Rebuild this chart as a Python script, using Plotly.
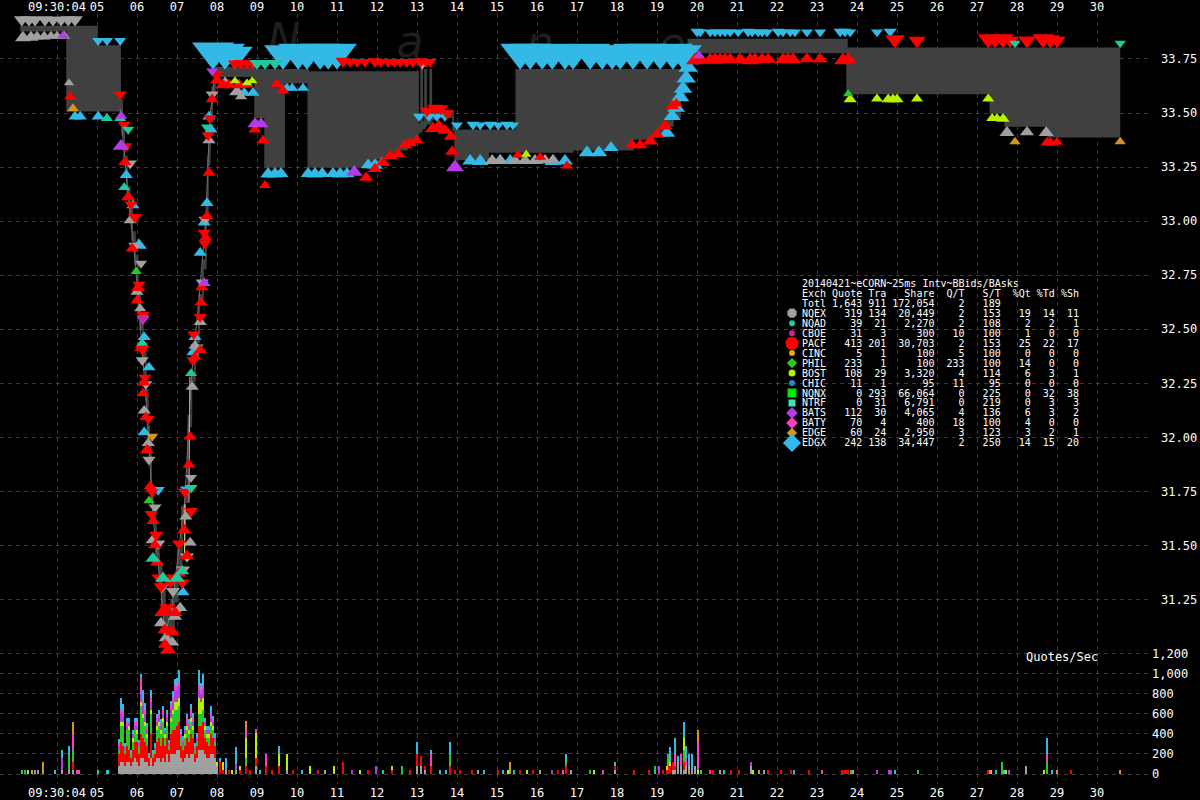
import math
import plotly.graph_objects as go

# ======================= DATA =======================
SEC_TICKS = list(range(4, 31))
SEC_LABELS = ["09:30:04"] + [f"{s:02d}" for s in range(5, 31)]
PRICE_TICKS = [31.25, 31.50, 31.75, 32.00, 32.25, 32.50, 32.75, 33.00, 33.25, 33.50, 33.75]
RATE_TICKS = [0, 200, 400, 600, 800, 1000, 1200]
RATE_LABELS = ["0", "200", "400", "600", "800", "1,000", "1,200"]

# national best bid / offer (seconds after 09:30:00)
NBBO_T = [3.08, 4.25, 5.00, 5.58, 5.63, 5.68, 5.75, 5.82, 5.88, 5.95, 6.02, 6.08, 6.15, 6.22, 6.27, 6.31,
          6.35, 6.40, 6.47, 6.55, 6.62, 6.70, 6.78, 6.85, 6.93, 7.02, 7.12, 7.20, 7.28, 7.36, 7.45, 7.55,
          7.65, 7.72, 7.77, 7.82, 7.88, 7.95, 8.95, 9.20, 9.68, 10.28, 11.75, 12.00, 12.25, 12.50, 12.75,
          12.92, 13.03, 13.10, 13.13, 13.20, 13.23, 13.33, 13.36, 13.45, 13.90, 13.95, 14.78, 15.48, 16.90,
          18.40, 18.90, 19.25, 19.40, 19.58, 19.70, 19.78, 23.75, 27.33, 27.70, 28.78, 30.58]
NBBO_ASK = [33.90, 33.90, 33.81, 33.56, 33.44, 33.30, 33.16, 33.06, 32.95, 32.84, 32.68, 32.54, 32.40, 32.22,
            32.05, 31.96, 31.76, 31.66, 31.52, 31.42, 31.32, 31.22, 31.20, 31.25, 31.36, 31.48, 31.68, 31.74,
            32.10, 32.30, 32.48, 32.66, 32.82, 33.03, 33.30, 33.50, 33.62, 33.71, 33.70, 33.70, 33.70, 33.69,
            33.69, 33.69, 33.69, 33.69, 33.69, 33.69, 33.45, 33.70, 33.46, 33.70, 33.48, 33.70, 33.50, 33.51,
            33.45, 33.42, 33.42, 33.70, 33.70, 33.70, 33.70, 33.70, 33.70, 33.70, 33.70, 33.84, 33.80, 33.80,
            33.80, 33.80, 33.80]
NBBO_BID = [33.88, 33.51, 33.51, 33.50, 33.40, 33.26, 33.12, 33.02, 32.91, 32.80, 32.63, 32.50, 32.36, 32.17,
            32.00, 31.91, 31.70, 31.60, 31.46, 31.33, 31.20, 31.05, 31.06, 31.12, 31.24, 31.40, 31.60, 31.70,
            32.05, 32.26, 32.44, 32.62, 32.78, 32.99, 33.26, 33.46, 33.58, 33.67, 33.48, 33.25, 33.64, 33.25,
            33.27, 33.29, 33.31, 33.33, 33.36, 33.38, 33.41, 33.42, 33.43, 33.44, 33.45, 33.46, 33.47, 33.48,
            33.42, 33.285, 33.32, 33.32, 33.33, 33.38, 33.39, 33.44, 33.48, 33.57, 33.64, 33.78, 33.59, 33.50,
            33.44, 33.39, 33.39]

# trade prints
TRADE_T = [5.58, 5.70, 5.82, 5.95, 6.08, 6.22, 6.31, 6.40, 6.55, 6.70, 6.85, 7.02, 7.20, 7.36, 7.55, 7.72, 7.82, 7.95]
TRADE_P = [33.52, 33.28, 33.04, 32.82, 32.52, 32.20, 31.93, 31.63, 31.38, 31.10, 31.18, 31.44, 31.72, 32.28,
           32.64, 33.01, 33.48, 33.69]
PACF_TRADE_T = [7.30, 7.32]
PACF_TRADE_P = [31.70, 32.28]
BOST_TRADE_T = [7.19, 7.20]
BOST_TRADE_P = [31.44, 31.69]

# quotes: (seconds, price, shares)
NQEX_ASK = [(3.12, 33.90, 600), (3.30, 33.90, 600), (3.45, 33.90, 500), (3.70, 33.90, 600), (3.90, 33.90, 500),
            (4.10, 33.90, 500), (4.28, 33.90, 600), (4.45, 33.90, 600),
            (5.83, 33.24, 300), (5.95, 32.86, 300), (6.10, 32.78, 200), (6.13, 32.33, 300), (6.22, 32.22, 300),
            (6.30, 31.87, 300), (6.45, 31.65, 300), (6.53, 31.48, 400), (6.63, 31.28, 400), (6.75, 31.07, 400),
            (6.90, 31.26, 400), (7.00, 31.17, 300), (7.15, 31.36, 400), (7.25, 31.42, 400), (7.35, 31.79, 200),
            (7.50, 32.39, 300), (7.63, 32.69, 300), (7.70, 32.98, 300), (7.88, 33.56, 300), (13.13, 33.70, 200)]
NQEX_BID = [(3.15, 33.88, 600), (3.35, 33.88, 500), (3.50, 33.88, 300), (3.68, 33.88, 300), (3.85, 33.88, 200),
            (4.00, 33.88, 200), (4.18, 33.88, 200), (4.30, 33.66, 100),
            (5.83, 33.03, 300), (6.00, 32.70, 300), (6.08, 32.62, 200), (6.18, 32.15, 300), (6.28, 32.00, 300),
            (6.38, 31.55, 300), (6.60, 31.17, 400), (6.72, 31.10, 400), (6.88, 31.08, 400), (6.95, 31.20, 400),
            (7.08, 31.24, 400), (7.22, 31.66, 300), (7.33, 31.54, 300), (7.38, 32.26, 300), (7.45, 32.45, 300),
            (7.58, 32.56, 300), (7.80, 33.40, 300), (8.20, 33.67, 600), (8.50, 33.63, 600), (8.60, 33.60, 200),
            (14.88, 33.31, 500), (15.08, 33.31, 500), (15.45, 33.31, 400), (15.70, 33.31, 500), (15.95, 33.31, 500),
            (16.20, 33.31, 400), (16.40, 33.31, 300), (27.75, 33.44, 500), (28.25, 33.44, 400), (28.73, 33.44, 500)]
PACF_ASK = [(5.58, 33.56, 300), (5.68, 33.42, 300), (5.72, 33.32, 300), (5.85, 33.05, 300), (5.95, 32.99, 400),
            (6.05, 32.68, 300), (6.15, 32.54, 300), (6.13, 32.38, 400), (6.20, 32.25, 300), (6.28, 32.06, 300),
            (6.35, 31.62, 300), (6.38, 31.72, 300), (6.48, 31.52, 400), (6.55, 31.32, 500), (6.60, 31.28, 500),
            (6.75, 31.18, 600), (6.83, 31.30, 900), (6.92, 31.32, 500), (7.05, 31.48, 400), (7.13, 31.30, 400),
            (7.20, 31.72, 400), (7.35, 31.63, 400), (7.40, 32.33, 300), (7.42, 32.45, 300), (7.58, 32.53, 300),
            (7.68, 32.92, 300), (7.70, 32.87, 300), (7.78, 33.37, 300), (7.82, 33.45, 300), (7.98, 33.65, 400),
            (8.45, 33.70, 400), (8.60, 33.70, 500), (8.75, 33.70, 400), (8.90, 33.70, 400),
            (11.15, 33.71, 500), (11.33, 33.71, 300), (11.50, 33.71, 300), (11.70, 33.71, 300), (11.95, 33.71, 400),
            (12.10, 33.71, 300), (12.28, 33.71, 300), (12.43, 33.71, 300), (12.58, 33.71, 300), (12.75, 33.71, 300),
            (12.90, 33.71, 300), (13.08, 33.71, 400), (13.23, 33.71, 300), (13.33, 33.71, 300),
            (13.25, 33.48, 500), (13.45, 33.49, 600), (13.60, 33.49, 500), (13.75, 33.47, 400),
            (24.95, 33.80, 1200), (25.50, 33.80, 800), (27.28, 33.80, 1500), (27.45, 33.80, 1200), (27.65, 33.80, 1500),
            (27.83, 33.80, 800), (28.25, 33.80, 900), (28.65, 33.80, 1500), (28.83, 33.80, 1200), (29.00, 33.80, 800)]
PACF_BID = [(4.33, 33.60, 200), (5.70, 33.30, 300), (5.78, 33.14, 400), (5.88, 32.90, 300), (6.00, 32.66, 300),
            (6.03, 32.72, 400), (6.10, 32.44, 300), (6.18, 32.28, 300), (6.15, 32.23, 300), (6.22, 32.12, 300),
            (6.25, 31.97, 400), (6.33, 31.80, 300), (6.40, 31.64, 300), (6.45, 31.53, 400), (6.50, 31.45, 400),
            (6.62, 31.22, 500), (6.70, 31.14, 500), (6.70, 31.07, 400), (6.78, 31.05, 600), (6.88, 31.13, 500),
            (6.95, 31.22, 500), (7.05, 31.40, 400), (7.18, 31.60, 400), (7.25, 31.48, 400), (7.30, 31.90, 300),
            (7.33, 32.03, 300), (7.45, 32.40, 300), (7.58, 32.43, 300), (7.60, 32.65, 300), (7.62, 32.72, 300),
            (7.72, 32.95, 300), (7.75, 33.05, 300), (7.80, 33.25, 300), (7.88, 33.59, 300),
            (8.00, 33.68, 400), (8.15, 33.66, 500), (8.30, 33.66, 400), (8.55, 33.66, 500),
            (8.75, 33.66, 400), (8.95, 33.45, 300), (9.15, 33.40, 300), (9.20, 33.19, 200), (9.50, 33.66, 300),
            (9.65, 33.63, 300), (11.73, 33.23, 400), (11.95, 33.27, 400), (12.15, 33.30, 400), (12.33, 33.33, 400),
            (12.53, 33.34, 400), (12.70, 33.38, 400), (12.83, 33.39, 400), (13.00, 33.40, 300),
            (13.40, 33.46, 600), (13.55, 33.47, 600), (13.70, 33.45, 500), (13.85, 33.42, 400), (13.88, 33.35, 400),
            (15.53, 33.33, 200), (16.08, 33.32, 200), (16.75, 33.28, 200),
            (18.38, 33.38, 400), (18.58, 33.38, 400), (18.83, 33.40, 500), (19.00, 33.43, 400), (19.20, 33.47, 500),
            (19.38, 33.56, 400), (19.48, 33.57, 300),
            (19.95, 33.78, 900), (20.08, 33.78, 800), (20.33, 33.78, 700), (20.45, 33.78, 800), (20.58, 33.78, 700),
            (20.70, 33.78, 700), (20.83, 33.78, 600), (21.08, 33.78, 700), (21.33, 33.78, 900), (21.45, 33.78, 700),
            (21.63, 33.78, 600), (21.78, 33.78, 600), (22.15, 33.78, 700), (22.28, 33.78, 600), (22.40, 33.78, 700),
            (22.75, 33.78, 500), (23.08, 33.78, 500), (23.65, 33.78, 900), (23.78, 33.78, 700),
            (28.75, 33.39, 300), (28.83, 33.39, 300), (29.00, 33.39, 200)]
EDGX_ASK = [(5.03, 33.81, 200), (5.25, 33.81, 200), (5.58, 33.81, 200),
            (6.38, 31.73, 300), (6.53, 31.73, 300), (7.25, 31.73, 400),
            (7.90, 33.70, 9000), (8.20, 33.70, 8000), (8.45, 33.70, 6000),
            (9.65, 33.70, 7000), (10.03, 33.70, 8000), (10.25, 33.70, 7000), (10.58, 33.70, 8000),
            (10.78, 33.70, 7000), (11.00, 33.70, 8000),
            (13.05, 33.46, 200), (13.30, 33.46, 200), (13.50, 33.46, 200), (13.70, 33.46, 200),
            (14.00, 33.42, 200), (14.40, 33.42, 300), (14.58, 33.42, 200), (14.83, 33.42, 300), (15.03, 33.42, 200),
            (15.25, 33.42, 300), (15.40, 33.42, 200),
            (15.58, 33.70, 8000), (15.83, 33.70, 8000), (16.13, 33.70, 7000), (16.38, 33.70, 8000),
            (16.70, 33.70, 7000), (16.90, 33.70, 6000), (17.33, 33.70, 8000), (17.63, 33.70, 7000),
            (17.88, 33.70, 7000), (18.08, 33.70, 6000), (18.40, 33.70, 8000), (18.75, 33.70, 8000),
            (19.08, 33.70, 7000), (19.40, 33.70, 8000), (19.65, 33.70, 7000),
            (20.00, 33.85, 300), (20.08, 33.85, 200), (20.33, 33.85, 200), (20.45, 33.85, 200), (20.58, 33.85, 200),
            (20.70, 33.85, 200), (20.83, 33.85, 200), (21.03, 33.85, 200), (21.28, 33.85, 300), (21.38, 33.85, 200),
            (21.53, 33.85, 200), (21.63, 33.85, 200), (21.75, 33.85, 200), (22.03, 33.85, 300), (22.15, 33.85, 200),
            (22.33, 33.85, 200), (22.45, 33.85, 200), (22.75, 33.85, 200), (23.08, 33.85, 200), (23.58, 33.85, 300),
            (23.70, 33.85, 300), (23.83, 33.85, 200), (24.50, 33.85, 200), (24.83, 33.85, 300)]
EDGX_BID = [(4.45, 33.51, 300), (4.58, 33.51, 300), (5.03, 33.51, 300),
            (5.73, 33.24, 300), (5.90, 33.10, 300), (6.05, 32.92, 600), (6.18, 32.49, 300), (6.30, 32.35, 300),
            (6.18, 32.05, 300), (7.15, 31.31, 300), (7.40, 32.42, 300), (7.45, 32.49, 300), (7.58, 32.88, 300),
            (7.68, 33.02, 300), (7.75, 33.11, 300), (7.85, 33.45, 300), (7.80, 33.51, 300),
            (8.68, 33.62, 300), (8.90, 33.62, 300),
            (9.28, 33.25, 600), (9.45, 33.25, 600), (9.60, 33.25, 500), (10.28, 33.25, 500), (10.45, 33.25, 600),
            (10.63, 33.25, 500), (10.90, 33.25, 500), (11.08, 33.25, 600), (11.25, 33.25, 500),
            (11.78, 33.29, 500), (11.95, 33.29, 600), (12.13, 33.30, 400),
            (9.75, 33.64, 200), (9.88, 33.64, 200), (10.15, 33.64, 200),
            (14.33, 33.31, 600), (14.58, 33.31, 700), (15.08, 33.31, 500), (15.33, 33.31, 500), (16.40, 33.31, 700),
            (16.70, 33.31, 600), (17.25, 33.35, 700), (17.55, 33.35, 700), (17.85, 33.37, 500),
            (19.25, 33.44, 700), (19.38, 33.52, 800), (19.48, 33.56, 900), (19.58, 33.61, 1000), (19.65, 33.65, 1000),
            (19.73, 33.70, 1200), (19.78, 33.75, 1200), (19.83, 33.78, 900)]
NQAD_ASK = [(5.78, 33.40, 200), (7.35, 31.74, 300), (7.75, 33.41, 200), (9.00, 33.70, 500), (9.20, 33.70, 500),
            (9.45, 33.70, 500), (27.95, 33.80, 150), (30.58, 33.80, 150)]
NQAD_BID = [(5.25, 33.50, 200), (5.58, 33.50, 200), (5.68, 33.18, 200), (6.13, 32.46, 200), (6.40, 31.47, 500),
            (6.65, 31.38, 600), (7.00, 31.38, 600), (7.13, 31.41, 400), (7.35, 32.32, 200)]
BATS_ASK = [(6.15, 32.52, 300), (7.88, 33.67, 200)]
BATS_BID = [(4.15, 33.88, 150), (5.60, 33.51, 200), (5.60, 33.38, 700), (7.68, 32.74, 300), (8.95, 33.48, 500),
            (9.10, 33.48, 500), (11.43, 33.26, 700), (13.95, 33.285, 900), (20.05, 33.79, 200)]
BOST_BID = [(8.45, 33.67, 100), (8.75, 33.66, 100), (8.88, 33.67, 100), (15.73, 33.33, 100), (23.83, 33.59, 300),
            (24.50, 33.59, 200), (24.78, 33.59, 300), (24.90, 33.59, 300), (25.00, 33.59, 300), (25.50, 33.59, 200),
            (27.28, 33.59, 200), (27.38, 33.50, 200), (27.50, 33.50, 200), (27.65, 33.50, 300)]
PHIL_BID = [(5.98, 32.79, 150), (6.30, 31.73, 150), (23.78, 33.61, 100)]
EDGE_BID = [(4.40, 33.545, 200), (27.95, 33.39, 150), (30.58, 33.39, 150)]
EDGE_ASK = [(6.38, 31.98, 200)]
CBOE_ASK = [(6.15, 32.53, 200)]

# quote rate (quotes/sec), dense stretch
RATE_T = [5.55, 5.60, 5.65, 5.70, 5.75, 5.80, 5.85, 5.90, 5.95, 6.00, 6.05, 6.10, 6.15, 6.20, 6.25, 6.30,
          6.35, 6.40, 6.45, 6.50, 6.55, 6.60, 6.65, 6.70, 6.75, 6.80, 6.85, 6.90, 6.95, 7.00, 7.05, 7.10,
          7.15, 7.20, 7.25, 7.30, 7.35, 7.40, 7.45, 7.50, 7.55, 7.60, 7.65, 7.70, 7.75, 7.80, 7.85, 7.90, 7.95]
RATE_NQEX = [80, 120, 120, 80, 120, 120, 80, 120, 160, 120, 80, 160, 160, 120, 120, 80, 160, 80, 120, 160, 160,
             120, 160, 120, 200, 120, 200, 200, 200, 240, 240, 160, 120, 160, 200, 160, 200, 200, 120, 160, 240,
             240, 240, 200, 160, 160, 200, 200, 160]
RATE_PACF = [120, 200, 160, 120, 160, 120, 80, 120, 160, 200, 120, 240, 200, 200, 160, 80, 240, 80, 80, 160, 200,
             160, 200, 160, 160, 120, 200, 240, 240, 240, 280, 120, 120, 120, 160, 160, 200, 160, 80, 120, 240,
             240, 280, 160, 160, 120, 200, 160, 120]
RATE_PHIL = [40, 160, 200, 40, 160, 200, 40, 80, 120, 80, 80, 280, 200, 160, 80, 0, 200, 40, 40, 120, 120, 120,
             160, 80, 120, 40, 120, 160, 200, 160, 160, 80, 40, 80, 80, 80, 120, 80, 40, 40, 120, 120, 120, 80,
             40, 80, 80, 80, 40]
RATE_BOST = [0, 40, 40, 0, 0, 40, 0, 40, 0, 40, 0, 40, 40, 40, 40, 0, 40, 0, 0, 40, 40, 40, 40, 40, 40, 0, 40,
             40, 80, 80, 80, 0, 0, 40, 40, 40, 40, 40, 0, 0, 160, 120, 120, 40, 40, 40, 40, 40, 0]
RATE_BATS = [40, 80, 60, 30, 40, 30, 0, 40, 40, 40, 30, 80, 80, 80, 40, 0, 80, 0, 30, 40, 40, 40, 40, 30, 40, 30,
             80, 80, 120, 120, 120, 40, 40, 40, 40, 40, 40, 40, 30, 40, 80, 80, 80, 40, 40, 40, 40, 40, 40]
RATE_BATY = [33, 33, 40, 0, 33, 0, 0, 0, 40, 33, 0, 160, 40, 40, 30, 0, 40, 0, 0, 33, 33, 23, 36, 0, 33, 0, 46,
             40, 40, 40, 40, 0, 16, 0, 33, 23, 40, 40, 0, 10, 40, 40, 40, 0, 0, 0, 40, 16, 10]
RATE_EDGX = [40, 120, 80, 40, 40, 43, 43, 33, 33, 40, 33, 33, 113, 70, 40, 50, 73, 43, 40, 40, 40, 40, 40, 30,
             40, 33, 40, 66, 63, 73, 113, 43, 40, 36, 40, 40, 53, 50, 40, 40, 153, 70, 113, 33, 36, 36, 76, 40, 40]

# quote rate, isolated bars: (seconds, quotes/sec)
SPARSE_NQEX = [(3.375, 40), (3.525, 40), (4.125, 40), (4.30, 40), (4.40, 40), (8.0, 80), (8.225, 40), (8.475, 40),
               (8.975, 80), (9.75, 40), (10.70, 40), (13.0, 80), (13.10, 80), (13.20, 40), (14.525, 40), (16.075, 40),
               (16.85, 40), (17.95, 40), (19.40, 40), (19.45, 40), (19.525, 120), (19.60, 80), (19.675, 40),
               (19.725, 80), (19.80, 80), (19.875, 40), (19.95, 80), (20.575, 40), (21.35, 77), (21.675, 40),
               (23.90, 40), (28.225, 83)]
SPARSE_NQAD = [(3.125, 40), (5.025, 40), (5.25, 40), (9.075, 40), (12.15, 40), (15.425, 40), (18.95, 40),
               (19.80, 40), (20.10, 40), (20.675, 40), (25.525, 40), (27.475, 40)]
SPARSE_PACF = [(4.40, 80), (8.075, 120), (8.15, 40), (8.30, 40), (8.575, 40), (8.725, 80), (8.825, 40), (8.975, 80),
               (9.225, 80), (9.375, 40), (9.55, 80), (9.90, 40), (10.525, 40), (11.15, 117), (11.775, 40),
               (12.375, 40), (12.825, 40), (13.0, 120), (13.10, 103), (13.20, 40), (13.35, 83), (13.825, 80),
               (13.95, 40), (14.075, 40), (14.375, 40), (15.025, 40), (15.575, 40), (15.90, 40), (16.525, 40),
               (16.725, 80), (17.95, 40), (18.425, 40), (18.80, 40), (19.15, 40), (19.25, 40), (19.275, 80),
               (19.325, 80), (19.40, 80), (19.45, 40), (19.675, 80), (20.40, 40), (20.85, 40), (21.05, 40),
               (21.775, 40), (22.10, 40), (22.35, 40), (22.80, 40), (23.625, 40), (23.675, 40), (23.725, 40),
               (23.775, 40), (27.275, 40), (29.35, 40)]
SPARSE_PHIL = [(3.20, 40), (4.30, 136), (4.40, 120), (8.725, 80), (12.625, 80), (13.825, 120), (16.725, 40),
               (17.325, 40), (18.95, 40), (19.275, 120), (19.675, 120), (23.85, 40), (27.625, 123), (28.75, 120)]
SPARSE_BOST = [(3.275, 40), (8.0, 40), (8.15, 80), (8.375, 40), (8.575, 40), (8.725, 200), (8.975, 250),
               (9.55, 120), (9.75, 160), (10.325, 80), (10.925, 83), (11.575, 40), (12.375, 40), (15.275, 40),
               (15.75, 40), (17.425, 40), (19.25, 40), (19.325, 40), (19.675, 120), (20.025, 40), (21.40, 40),
               (27.35, 40), (27.725, 40), (28.675, 40)]
SPARSE_BATS = [(4.125, 120), (8.475, 60), (11.375, 40), (11.975, 80), (16.375, 40), (19.05, 83), (21.35, 40),
               (24.50, 40), (24.80, 40), (24.85, 40), (27.80, 40)]
SPARSE_BATY = [(4.40, 160), (4.50, 40), (4.55, 40), (8.725, 83), (8.975, 40), (9.225, 120), (13.35, 120),
               (16.65, 40), (17.65, 40), (19.45, 120), (19.60, 120), (19.725, 80), (20.025, 280), (20.325, 40),
               (23.125, 40), (28.75, 80)]
SPARSE_EDGE = [(3.45, 40), (3.65, 117), (4.40, 116), (8.725, 83), (15.325, 123), (20.025, 120), (21.55, 40),
               (27.325, 40), (29.00, 40), (30.575, 40)]
SPARSE_EDGX = [(3.95, 40), (4.125, 80), (4.30, 100), (5.275, 40), (8.075, 40), (8.225, 120), (8.475, 173),
               (9.55, 80), (10.125, 40), (13.0, 120), (13.35, 40), (13.575, 40), (13.725, 40), (13.825, 120),
               (14.675, 40), (15.15, 40), (16.725, 80), (17.95, 40), (19.325, 150), (19.45, 160), (19.525, 60),
               (19.675, 160), (19.725, 120), (19.80, 80), (19.875, 160), (22.425, 40), (24.95, 40), (27.675, 40),
               (28.75, 160), (28.875, 40)]

# summary table
TABLE_TITLE = "20140421~eCORN~25ms Intv~BBids/BAsks"
TBL_EXCH = ["NQEX", "NQAD", "CBOE", "PACF", "CINC", "PHIL", "BOST", "CHIC", "NQNX", "NTRF", "BATS", "BATY", "EDGE", "EDGX"]
TBL_QUOTE = [319, 39, 31, 413, 5, 233, 108, 11, 0, 0, 112, 70, 60, 242]
TBL_TRA = [134, 21, 3, 201, 1, 1, 29, 1, 293, 31, 30, 4, 24, 138]
TBL_SHARE = [20449, 2270, 300, 30703, 100, 100, 3320, 95, 66064, 6791, 4065, 400, 2950, 34447]
TBL_QT = [2, 2, 10, 2, 5, 233, 4, 11, 0, 0, 4, 18, 3, 2]
TBL_ST = [153, 108, 100, 153, 100, 100, 114, 95, 225, 219, 136, 100, 123, 250]
TBL_PQT = [19, 2, 1, 25, 0, 14, 6, 0, 0, 0, 6, 4, 3, 14]
TBL_PTD = [14, 2, 0, 22, 0, 0, 3, 0, 32, 3, 3, 0, 2, 15]
TBL_PSH = [11, 1, 0, 17, 0, 0, 1, 0, 38, 3, 2, 0, 1, 20]
TOT_QUOTE, TOT_TRA, TOT_SHARE, TOT_QT, TOT_ST = 1643, 911, 172054, 2, 189
WATERMARK = ["N", "a", "n", "e", "x"]

# ======================= STYLE =======================
COLOR = {"NQEX": "#a0a0a0", "NQAD": "#1ec8a0", "CBOE": "#c8288c", "PACF": "#ff0000", "CINC": "#f0a010",
         "PHIL": "#28c828", "BOST": "#b4f000", "CHIC": "#2888c8", "NQNX": "#00e600", "NTRF": "#3ce6b4",
         "BATS": "#b43ce6", "BATY": "#ff3cc8", "EDGE": "#d2961e", "EDGX": "#32b9e6"}
LEG_SYMBOL = {"NQEX": "octagon", "NQAD": "circle", "CBOE": "circle", "PACF": "circle", "CINC": "circle",
              "PHIL": "diamond", "BOST": "circle", "CHIC": "circle", "NQNX": "square", "NTRF": "square",
              "BATS": "diamond", "BATY": "diamond", "EDGE": "diamond", "EDGX": "diamond"}
LEG_SIZE = {"NQEX": 10, "NQAD": 6, "CBOE": 6, "PACF": 13, "CINC": 6, "PHIL": 8, "BOST": 7, "CHIC": 6,
            "NQNX": 9, "NTRF": 7, "BATS": 9, "BATY": 9, "EDGE": 8, "EDGX": 14}

FIG_W, FIG_H = 1200, 800
M_L, M_R, M_T, M_B = 0, 50, 14, 14
PLOT_W, PLOT_H = FIG_W - M_L - M_R, FIG_H - M_T - M_B
X_RANGE = [2.575, 31.325]
P_RANGE = [30.397, 33.958]
V_RANGE = [-99, 7557]
MONO = "DejaVu Sans Mono"


def px2t(px):
    return X_RANGE[0] + (px - M_L) / PLOT_W * (X_RANGE[1] - X_RANGE[0])


def py2p(py):
    return P_RANGE[1] - (py - M_T) / PLOT_H * (P_RANGE[1] - P_RANGE[0])


def size_px(shares):
    return 6 + 3.2 * math.sqrt(shares / 100.0)


def quote_trace(quotes, color, side):
    s = [size_px(q[2]) for q in quotes]
    return go.Scatter(
        x=[q[0] for q in quotes], y=[q[1] for q in quotes], mode="markers",
        marker=dict(symbol="triangle-up", angle=180 if side == "ask" else 0, size=s, opacity=1,
                    standoff=[v / 2 for v in s], color=color, line=dict(width=0)),
        hoverinfo="skip", showlegend=False)


fig = go.Figure()

# watermark (drawn first, behind everything)
fig.add_trace(go.Scatter(
    x=[px2t(v) for v in [284, 410, 540, 672, 790]], y=[py2p(v) for v in [44, 46, 47, 48, 52]],
    mode="text", text=WATERMARK,
    textfont=dict(family="DejaVu Sans", size=44, color="#1e1e1e", style="italic"),
    hoverinfo="skip", showlegend=False))

# spread
fig.add_trace(go.Scatter(x=NBBO_T, y=NBBO_BID, mode="lines", line=dict(width=1.5, color="#404040", shape="hv"),
                         hoverinfo="skip", showlegend=False))
fig.add_trace(go.Scatter(x=NBBO_T, y=NBBO_ASK, mode="lines", line=dict(width=1.5, color="#404040", shape="hv"),
                         fill="tonexty", fillcolor="#404040", hoverinfo="skip", showlegend=False))

# trades
fig.add_trace(go.Scatter(x=TRADE_T, y=TRADE_P, mode="lines", line=dict(width=1, color="#707070"),
                         hoverinfo="skip", showlegend=False))
fig.add_trace(go.Scatter(x=PACF_TRADE_T, y=PACF_TRADE_P, mode="lines", line=dict(width=1, color="#ff9090"),
                         hoverinfo="skip", showlegend=False))
fig.add_trace(go.Scatter(x=BOST_TRADE_T, y=BOST_TRADE_P, mode="lines", line=dict(width=1, color="#ffff90"),
                         hoverinfo="skip", showlegend=False))

# quotes
for quotes, ex, side in [(EDGX_ASK, "EDGX", "ask"), (EDGX_BID, "EDGX", "bid"),
                         (NQEX_ASK, "NQEX", "ask"), (NQEX_BID, "NQEX", "bid"),
                         (PACF_ASK, "PACF", "ask"), (PACF_BID, "PACF", "bid"),
                         (NQAD_ASK, "NQAD", "ask"), (NQAD_BID, "NQAD", "bid"),
                         (BATS_ASK, "BATS", "ask"), (BATS_BID, "BATS", "bid"),
                         (BOST_BID, "BOST", "bid"), (PHIL_BID, "PHIL", "bid"),
                         (EDGE_BID, "EDGE", "bid"), (EDGE_ASK, "EDGE", "ask"), (CBOE_ASK, "CBOE", "ask")]:
    fig.add_trace(quote_trace(quotes, COLOR[ex], side))

# legend glyphs next to the table
fig.add_trace(go.Scatter(
    x=[px2t(792)] * len(TBL_EXCH), y=[py2p(314 + 10 * i) for i in range(len(TBL_EXCH))], mode="markers",
    marker=dict(symbol=[LEG_SYMBOL[e] for e in TBL_EXCH], size=[LEG_SIZE[e] for e in TBL_EXCH], opacity=1,
                color=[COLOR[e] for e in TBL_EXCH], line=dict(width=0)),
    hoverinfo="skip", showlegend=False, cliponaxis=False))

# top axis carrier
fig.add_trace(go.Scatter(x=[X_RANGE[0]], y=[P_RANGE[0]], xaxis="x2", mode="markers",
                         marker=dict(opacity=0), hoverinfo="skip", showlegend=False))

# quote-rate bars
dense = {"NQEX": RATE_NQEX, "PACF": RATE_PACF, "PHIL": RATE_PHIL, "BOST": RATE_BOST,
         "BATS": RATE_BATS, "BATY": RATE_BATY, "EDGX": RATE_EDGX}
sparse = {"NQEX": SPARSE_NQEX, "NQAD": SPARSE_NQAD, "PACF": SPARSE_PACF, "PHIL": SPARSE_PHIL,
          "BOST": SPARSE_BOST, "BATS": SPARSE_BATS, "BATY": SPARSE_BATY, "EDGE": SPARSE_EDGE, "EDGX": SPARSE_EDGX}
for ex in ["NQEX", "NQAD", "PACF", "PHIL", "BOST", "BATS", "BATY", "EDGE", "EDGX"]:
    xs, ys, ws = [], [], []
    if ex in dense:
        xs += RATE_T
        ys += dense[ex]
        ws += [0.035] * len(RATE_T)
    for t, v in sparse.get(ex, []):
        xs.append(t)
        ys.append(v)
        ws.append(0.03)
    fig.add_trace(go.Bar(x=xs, y=ys, width=ws, yaxis="y2", marker=dict(color=COLOR[ex], line=dict(width=0)),
                         hoverinfo="skip", showlegend=False))


# table
def nb(s):
    return s.replace(" ", "\u00a0")


def fmt(v):
    return f"{v:,}" if isinstance(v, int) else v


rows = [TABLE_TITLE,
        f"{'Exch':<4}{'Quote':>6}{'Tra':>4}{'Share':>8}{'Q/T':>5}{'S/T':>6}{'%Qt':>5}{'%Td':>4}{'%Sh':>4}",
        f"{'Totl':<4}{fmt(TOT_QUOTE):>6}{fmt(TOT_TRA):>4}{fmt(TOT_SHARE):>8}{TOT_QT:>5}{TOT_ST:>6}"]
for i, ex in enumerate(TBL_EXCH):
    rows.append(f"{ex:<4}{fmt(TBL_QUOTE[i]):>6}{fmt(TBL_TRA[i]):>4}{fmt(TBL_SHARE[i]):>8}{TBL_QT[i]:>5}"
                f"{TBL_ST[i]:>6}{TBL_PQT[i]:>5}{TBL_PTD[i]:>4}{TBL_PSH[i]:>4}")
row_y = [284, 294, 304] + [314 + 10 * i for i in range(len(TBL_EXCH))]
annotations = []
for text, py in zip(rows, row_y):
    annotations.append(dict(x=(800 - M_L) / PLOT_W, y=1 - (py - M_T) / PLOT_H, xref="paper", yref="paper",
                            text=nb(text), showarrow=False, xanchor="left", yanchor="middle",
                            font=dict(family=MONO, size=10, color="white")))
annotations.append(dict(x=(1062 - M_L) / PLOT_W, y=1 - (659 - M_T) / PLOT_H, xref="paper", yref="paper",
                        text="Quotes/Sec", showarrow=False, xanchor="center", yanchor="middle",
                        font=dict(family=MONO, size=12, color="white")))

tickfont = dict(family=MONO, size=12, color="white")
grid = dict(showgrid=True, gridcolor="#3a3a3a", gridwidth=1, griddash="4px,4px")
fig.update_layout(
    width=FIG_W, height=FIG_H, paper_bgcolor="black", plot_bgcolor="black",
    margin=dict(l=M_L, r=M_R, t=M_T, b=M_B), showlegend=False, hovermode=False,
    barmode="stack", bargap=0, annotations=annotations,
    xaxis=dict(range=X_RANGE, tickmode="array", tickvals=SEC_TICKS, ticktext=SEC_LABELS, side="bottom",
               showline=False, zeroline=False, ticks="", tickfont=tickfont, fixedrange=True, **grid),
    xaxis2=dict(range=X_RANGE, tickmode="array", tickvals=SEC_TICKS, ticktext=SEC_LABELS, side="top",
                overlaying="x", showline=False, zeroline=False, showgrid=False, ticks="", tickfont=tickfont),
    yaxis=dict(range=P_RANGE, tickmode="array", tickvals=PRICE_TICKS, ticktext=[f"{v:.2f}" for v in PRICE_TICKS],
               side="right", showline=False, zeroline=False, ticks="", tickfont=tickfont, ticklabelstandoff=10,
               **grid),
    yaxis2=dict(range=V_RANGE, tickmode="array", tickvals=RATE_TICKS, ticktext=RATE_LABELS, side="right",
                overlaying="y", showline=False, zeroline=False, ticks="", tickfont=tickfont, ticklabelstandoff=1,
                **grid),
)

fig.write_html("out.html", config={"displayModeBar": False},
               post_script="document.body.style.margin='0';document.body.style.overflow='hidden';")
